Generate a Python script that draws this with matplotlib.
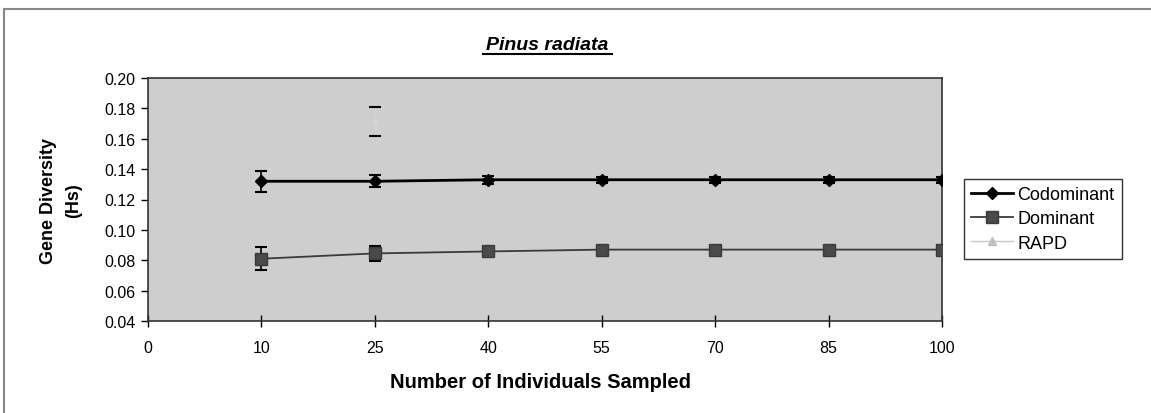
import matplotlib.pyplot as plt
from matplotlib.lines import Line2D

plt.rcParams['font.family'] = ['Liberation Sans', 'DejaVu Sans']

sample_sizes = ['0', '10', '25', '40', '55', '70', '85', '100']
codom_x = [1, 2, 3, 4, 5, 6, 7]
codom = [0.132, 0.132, 0.133, 0.133, 0.133, 0.133, 0.133]
codom_err = [0.007, 0.004, 0.0025, 0.002, 0.002, 0.002, 0.002]
dom_x = [1, 2, 3, 4, 5, 6, 7]
dom = [0.081, 0.0845, 0.0858, 0.087, 0.087, 0.087, 0.087]
dom_err = [0.0075, 0.005, 0.003, 0.002, 0.002, 0.002, 0.002]
rapd_x = [2]
rapd = [0.1715]
rapd_err = [0.0097]

W, H = 1151, 414
fig = plt.figure(figsize=(W/100, H/100), dpi=100)
fig.patch.set_facecolor('white')
# outer frame: only top and left edges show in the scan
fig.add_artist(Line2D([4/W, 1], [1-10/H, 1-10/H], color='#888888', lw=1.5))
fig.add_artist(Line2D([4/W, 4/W], [0, 1-10/H], color='#888888', lw=1.5))

ax = fig.add_axes([148/W, 1-322/H, (942-148)/W, (322-79)/H])
ax.set_facecolor('#cecece')

ax.errorbar(codom_x, codom, yerr=codom_err, color='black', lw=2, marker='D',
            markersize=6, ecolor='black', elinewidth=1.2, capsize=4, capthick=1.5,
            zorder=4)
ax.errorbar(dom_x, dom, yerr=dom_err, color='#3a3a3a', lw=1.3, marker='s',
            markersize=9, markerfacecolor='#4a4a4a', markeredgecolor='#3a3a3a',
            ecolor='black', elinewidth=1.2, capsize=4, capthick=1.5, zorder=3)
r = ax.errorbar(rapd_x, rapd, yerr=rapd_err, color='#d2d2d2', lw=1, marker='^',
                markersize=5, markerfacecolor='#d4d4d4', markeredgecolor='#d4d4d4',
                ecolor='#d0d0d0', elinewidth=1, capsize=4, capthick=1.5, zorder=2)
for cap in r[1]:
    cap.set_markeredgecolor('black')
    cap.set_color('black')

ax.set_xlim(0, 7)
ax.set_ylim(0.04, 0.20)
ax.set_xticks(range(len(sample_sizes)))
ax.set_xticklabels(sample_sizes, fontsize=11.5)
ax.set_yticks([0.04, 0.06, 0.08, 0.10, 0.12, 0.14, 0.16, 0.18, 0.20])
ax.set_yticklabels(['%.2f' % v for v in ax.get_yticks()], fontsize=11.5)
ax.tick_params(axis='x', direction='inout', length=8, width=1, pad=10)
ax.tick_params(axis='y', direction='out', length=5, width=1, pad=4)
for s in ax.spines.values():
    s.set_linewidth(1.2)
    s.set_color('#333333')

fig.text(540/W, 1-383/H, 'Number of Individuals Sampled', ha='center', va='center',
         fontsize=14.5, fontweight='bold')
fig.text(61/W, 1-201/H, 'Gene Diversity\n(Hs)', ha='center', va='center', rotation=90,
         fontsize=13, fontweight='bold', linespacing=1.6)

fig.text(547/W, 1-45/H, 'Pinus radiata', ha='center', va='center',
         fontsize=14, fontweight='bold', fontstyle='italic')
fig.add_artist(Line2D([483/W, 612/W], [1-55/H, 1-55/H], color='black', lw=1.5))

handles = [
    Line2D([], [], color='black', lw=2, marker='D', markersize=6),
    Line2D([], [], color='#3a3a3a', lw=1.3, marker='s', markersize=9,
           markerfacecolor='#4a4a4a'),
    Line2D([], [], color='#c8c8c8', lw=1, marker='^', markersize=6,
           markerfacecolor='#c0c0c0', markeredgecolor='#c0c0c0'),
]
leg = fig.legend(handles, ['Codominant', 'Dominant', 'RAPD'], loc='upper left',
                 bbox_to_anchor=(964/W, 1-180/H), fontsize=13, frameon=True,
                 fancybox=False, edgecolor='black', handlelength=2.3,
                 borderpad=0.4, labelspacing=0.4, handletextpad=0.25,
                 borderaxespad=0)
leg.get_frame().set_linewidth(1)

fig.savefig('out.png', dpi=100)
